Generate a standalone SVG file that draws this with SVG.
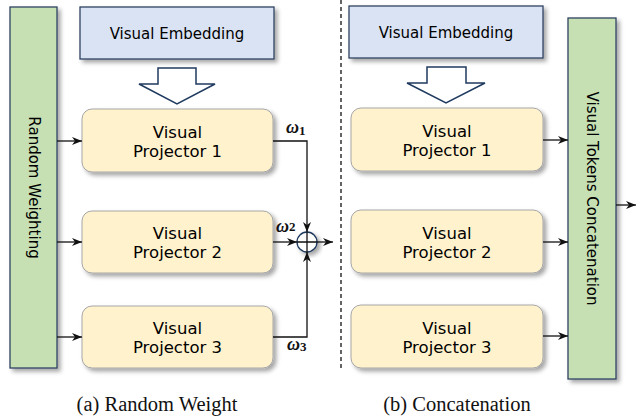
<svg xmlns="http://www.w3.org/2000/svg" width="640" height="417" viewBox="0 0 640 417">
<style>
.bar{fill:#c6e0b4;stroke:#2e4461;stroke-width:1.3}
.emb{fill:#dae3f3;stroke:#2e4461;stroke-width:1.3}
.proj{fill:#fff2cc;stroke:#a6a6a6;stroke-width:1}
.hol{fill:#ffffff;stroke:#1f3a5f;stroke-width:1.5;stroke-linejoin:miter}
.lbl{font-family:"DejaVu Sans",sans-serif;font-size:15px;fill:#000;text-anchor:middle}
.plbl{font-family:"DejaVu Sans",sans-serif;font-size:16.5px;fill:#000;text-anchor:middle}
.cap{font-family:"Liberation Serif",serif;font-size:20.5px;fill:#111;text-anchor:middle}
.w{font-family:"Liberation Serif",serif;font-weight:bold;font-style:italic;font-size:18px;fill:#111}
.sub{font-style:normal;font-size:13px}
.ln{fill:none;stroke:#111;stroke-width:1.3}
.arr{fill:none;stroke:#111;stroke-width:1.3;marker-end:url(#ah)}
</style>
<defs>
<filter id="sh" x="-20%" y="-20%" width="150%" height="150%">
<feDropShadow dx="3" dy="3" stdDeviation="2" flood-color="#000" flood-opacity="0.35"/>
</filter>
<marker id="ah" viewBox="0 0 10 8" refX="10" refY="4" markerWidth="10" markerHeight="8" markerUnits="userSpaceOnUse" orient="auto">
<path d="M0,0 L10,4 L0,8 L3,4 z" fill="#111"/>
</marker>
</defs>

<g id="random-weighting">
<rect class="bar" x="10" y="7" width="47" height="361" filter="url(#sh)"/>
<text class="lbl" transform="translate(33.5,187.5) rotate(90)" dy="5">Random Weighting</text>
</g>
<g id="embedding-a">
<rect class="emb" x="80" y="7" width="194" height="52" filter="url(#sh)"/>
<text class="lbl" x="177" y="39">Visual Embedding</text>
</g>
<g id="hollow-arrow-a">
<polygon class="hol" points="158,68 196,68 196,84 215,84 177,104 139,84 158,84"/>
</g>
<g id="proj-a1">
<rect class="proj" x="82" y="109" width="191" height="63" rx="10" filter="url(#sh)"/>
<text class="plbl" x="177.5" y="138">Visual</text>
<text class="plbl" x="177.5" y="157">Projector 1</text>
</g>
<g id="proj-a2">
<rect class="proj" x="82" y="211" width="191" height="62" rx="10" filter="url(#sh)"/>
<text class="plbl" x="177.5" y="239">Visual</text>
<text class="plbl" x="177.5" y="258">Projector 2</text>
</g>
<g id="proj-a3">
<rect class="proj" x="82" y="306" width="191" height="62" rx="10" filter="url(#sh)"/>
<text class="plbl" x="177.5" y="334">Visual</text>
<text class="plbl" x="177.5" y="353">Projector 3</text>
</g>
<g id="sum">
<circle cx="307" cy="242" r="10" fill="#fff" stroke="#1f3a5f" stroke-width="1.3" filter="url(#sh)"/>
<path class="ln" d="M297,242 H317 M307,232 V252"/>
</g>

<g id="embedding-b">
<rect class="emb" x="349" y="6" width="194" height="52" filter="url(#sh)"/>
<text class="lbl" x="446" y="38">Visual Embedding</text>
</g>
<g id="hollow-arrow-b">
<polygon class="hol" points="427,67 466,67 466,83 485,83 446,103 407,83 427,83"/>
</g>
<g id="proj-b1">
<rect class="proj" x="351" y="108" width="192" height="63" rx="10" filter="url(#sh)"/>
<text class="plbl" x="447" y="137">Visual</text>
<text class="plbl" x="447" y="156">Projector 1</text>
</g>
<g id="proj-b2">
<rect class="proj" x="351" y="210" width="192" height="63" rx="10" filter="url(#sh)"/>
<text class="plbl" x="447" y="239">Visual</text>
<text class="plbl" x="447" y="258">Projector 2</text>
</g>
<g id="proj-b3">
<rect class="proj" x="351" y="305" width="192" height="63" rx="10" filter="url(#sh)"/>
<text class="plbl" x="447" y="334">Visual</text>
<text class="plbl" x="447" y="353">Projector 3</text>
</g>
<g id="tokens-concat">
<rect class="bar" x="568" y="18" width="48" height="361" filter="url(#sh)"/>
<text class="lbl" transform="translate(592,198.5) rotate(90)" dy="5">Visual Tokens Concatenation</text>
</g>

<g id="connectors">
<path class="arr" d="M57,141 H82"/>
<path class="arr" d="M57,242 H82"/>
<path class="arr" d="M57,337 H82"/>
<path class="arr" d="M273,141 H307 V232"/>
<path class="arr" d="M273,242 H297"/>
<path class="arr" d="M273,337 H307 V252"/>
<path class="arr" d="M317,242 H333"/>
<path class="arr" d="M543,140 H568"/>
<path class="arr" d="M543,242 H568"/>
<path class="arr" d="M543,336 H568"/>
<path class="arr" d="M616,205 H636"/>
<line x1="341" y1="0" x2="341" y2="371" stroke="#111" stroke-width="1.3" stroke-dasharray="4,3"/>
</g>

<g id="weights">
<text class="w" x="286" y="133">ω<tspan class="sub" dy="2">1</tspan></text>
<text class="w" x="276" y="232">ω<tspan class="sub" dy="-1">2</tspan></text>
<text class="w" x="287" y="350">ω<tspan class="sub" dy="1">3</tspan></text>
</g>

<g id="captions">
<text class="cap" x="157" y="411">(a) Random Weight</text>
<text class="cap" x="457" y="411">(b) Concatenation</text>
</g>
</svg>
